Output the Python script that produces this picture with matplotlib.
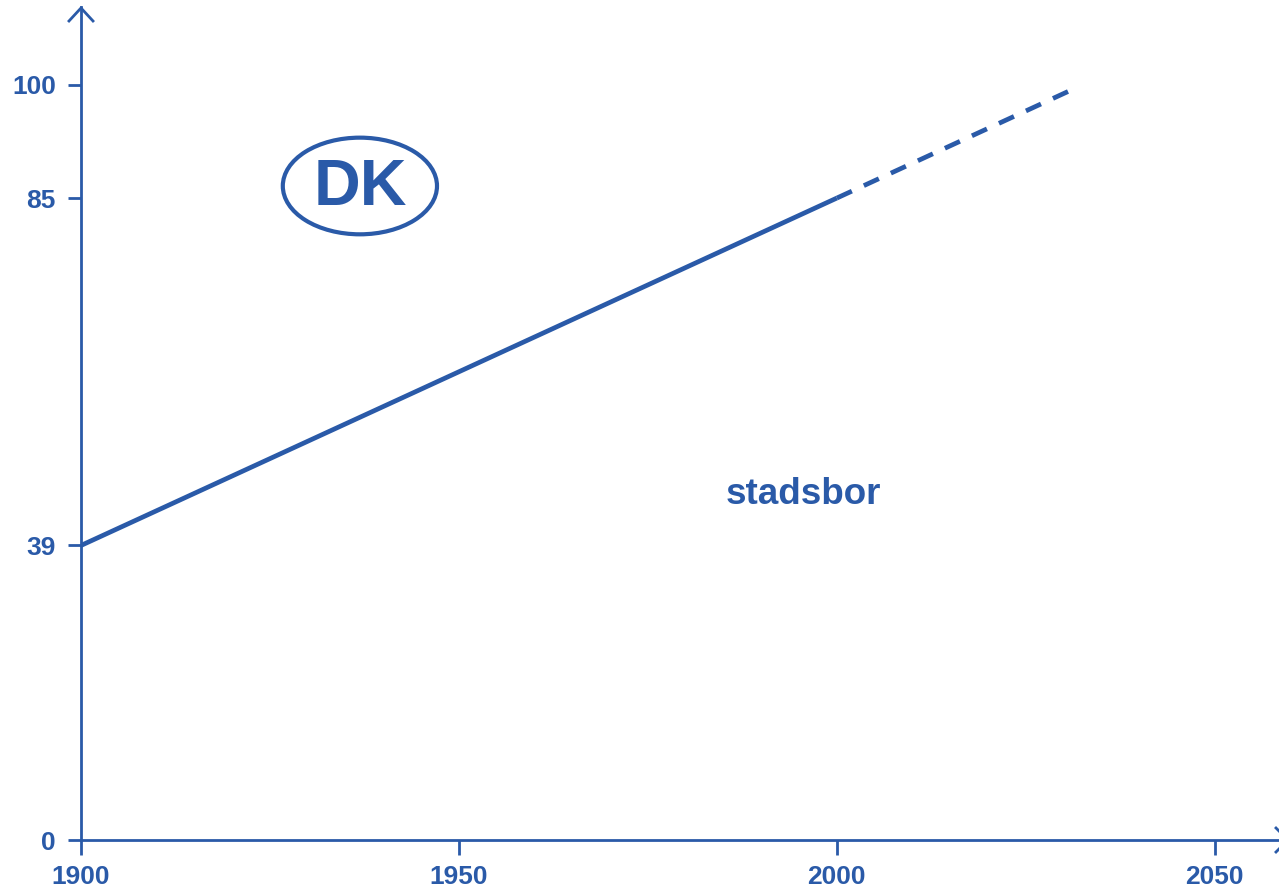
import matplotlib
matplotlib.use("Agg")
import matplotlib.pyplot as plt
from matplotlib.patches import Ellipse
from matplotlib.lines import Line2D

# data
years_hist = [1900, 2000]
share_hist = [39, 85]
years_proj = [2000, 2031]
share_proj = [85, 99.3]
xticks = [1900, 1950, 2000, 2050]
yticks = [0, 39, 85, 100]
label_text = "stadsbor"
badge_text = "DK"

C = "#2a5aa8"
plt.rcParams['font.family'] = ['Liberation Sans', 'DejaVu Sans']

W, H = 1279, 892
fig = plt.figure(figsize=(W/100, H/100), dpi=100)
L, B, R, T = 81, 840, 1279, 7
ax = fig.add_axes([L/W, (H-B)/H, (R-L)/W, (B-T)/H])
ax.set_xlim(1900, 2058.5)
ax.set_ylim(0, 110.3)

for s in ['top', 'right']:
    ax.spines[s].set_visible(False)
for s in ['left', 'bottom']:
    ax.spines[s].set_color(C)
    ax.spines[s].set_linewidth(2.0)

ax.set_xticks(xticks)
ax.set_yticks(yticks)
ax.tick_params(axis='both', colors=C, width=2.0, direction='out')
ax.tick_params(axis='y', length=9.5, pad=8.5)
ax.tick_params(axis='x', length=11, pad=7.0)
for lab in ax.get_xticklabels() + ax.get_yticklabels():
    lab.set_fontsize(19)
    lab.set_fontweight('bold')
    lab.set_color(C)

ax.plot(years_hist, share_hist, color=C, lw=3.4, solid_capstyle='butt')
ax.plot(years_proj, share_proj, color=C, lw=3.4, dashes=(3.5, 2.8),
        dash_capstyle='butt')

ax.add_patch(Ellipse((1936.9, 86.6), 20.4, 12.8, fill=False, ec=C, lw=3.0))
ax.text(1937.0, 86.3, badge_text, color=C, fontsize=46.5, fontweight='bold',
        ha='center', va='center')
ax.text(1995.6, 45.7, label_text, color=C, fontsize=26.5, fontweight='bold',
        ha='center', va='center')

# arrow heads (pixel coords -> figure fraction)
def chevron(pts):
    xs = [p[0]/W for p in pts]
    ys = [(H - p[1])/H for p in pts]
    fig.add_artist(Line2D(xs, ys, color=C, lw=2.0, transform=fig.transFigure,
                          solid_joinstyle='miter'))

chevron([(69, 21), (81, 8), (93, 21)])
chevron([(1276, 828), (1288, 840), (1276, 852)])

fig.savefig("out.png", dpi=100)
